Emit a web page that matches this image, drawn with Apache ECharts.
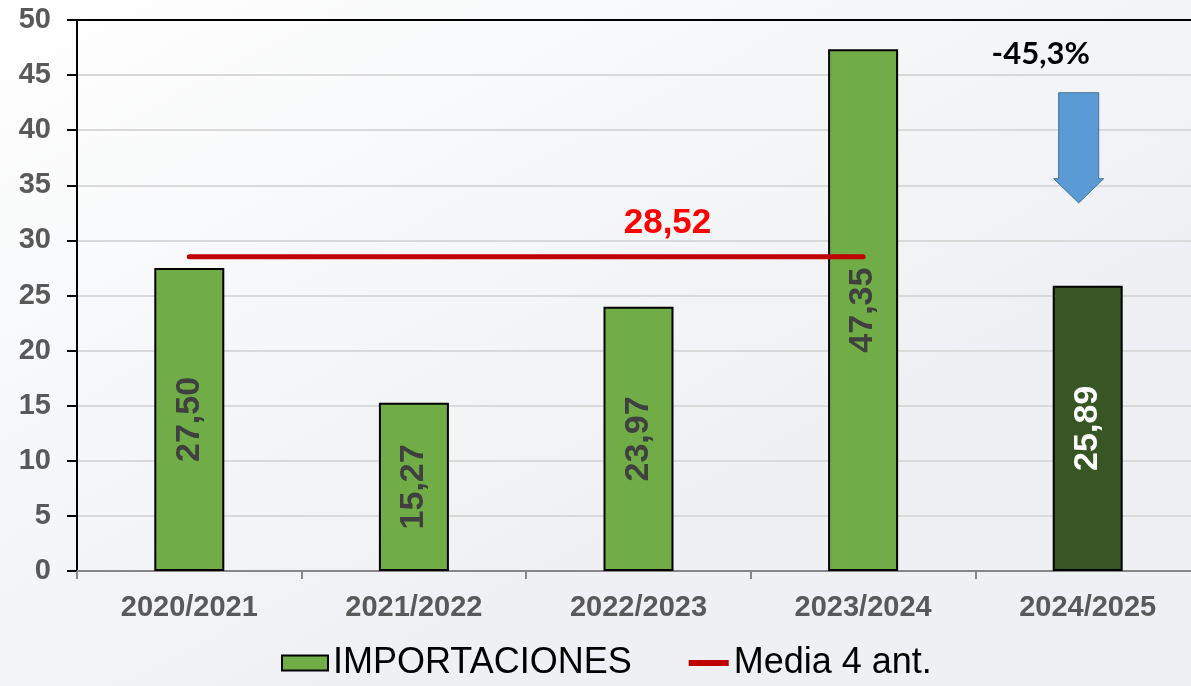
<!DOCTYPE html>
<html>
<head>
<meta charset="utf-8">
<script src="https://cdn.jsdelivr.net/npm/echarts@6/dist/echarts.min.js"></script>
<style>
html, body { margin: 0; padding: 0; overflow: hidden; }
#container { width: 1200px; height: 686px; }
</style>
</head>
<body>
<div id="container"></div>
<script>
var categories = ['2020/2021', '2021/2022', '2022/2023', '2023/2024', '2024/2025'];
var importaciones = [27.50, 15.27, 23.97, 47.35, 25.89];
var media = [28.52, 28.52, 28.52, 28.52, null];
var mediaLabelIndex = 2;
var variacion = '-45,3%';

var chart = echarts.init(document.getElementById('container'));

function fmt(v) {
    return v.toFixed(2).replace('.', ',');
}

var barData = importaciones.map(function (v, i) {
    var last = i === importaciones.length - 1;
    return {
        value: v,
        itemStyle: { color: last ? '#375623' : '#70ad47' },
        label: { color: last ? '#ffffff' : '#404040' }
    };
});

var splitColors = ['rgba(0,0,0,0)'];
for (var k = 1; k < 10; k++) splitColors.push('#d9d9d9');
splitColors.push('#000000');

// thin bar inside a 46x15 box, so the legend shows a plain red line
var lineIcon = 'path://M0,0 L0.01,0 M6,4.5 L46,4.5 L46,10.5 L6,10.5 Z M46,15 L45.99,15';

var option = {
    backgroundColor: {
        type: 'linear', x: 0, y: 0, x2: 0.3, y2: 1,
        colorStops: [{ offset: 0, color: '#ffffff' }, { offset: 1, color: '#eef0f3' }]
    },
    animation: false,
    grid: { left: 77, top: 20, right: 0, bottom: 115, containLabel: false },
    legend: {
        bottom: 0,
        left: 276,
        itemGap: 51,
        itemWidth: 46,
        itemHeight: 15,
        textStyle: { fontSize: 36, color: '#000000', fontFamily: 'Liberation Sans' },
        data: [
            { name: 'IMPORTACIONES', icon: 'rect', itemStyle: { color: '#70ad47', borderColor: '#000', borderWidth: 2 } },
            { name: 'Media 4 ant.', icon: lineIcon, itemStyle: { color: '#c00000', borderWidth: 0 } }
        ]
    },
    xAxis: {
        type: 'category',
        data: categories,
        axisLine: { lineStyle: { color: '#868686', width: 2 } },
        axisTick: { show: true, length: 8, lineStyle: { color: '#868686', width: 2 } },
        axisLabel: { margin: 22, fontSize: 29, fontWeight: 'bold', color: '#595959', fontFamily: 'Liberation Sans' }
    },
    yAxis: {
        type: 'value',
        min: 0, max: 50, interval: 5,
        axisLine: { show: true, lineStyle: { color: '#000', width: 2 } },
        axisTick: { show: true, length: 10, lineStyle: { color: '#000', width: 2 } },
        axisLabel: { margin: 26, fontSize: 29, fontWeight: 'bold', color: '#595959', fontFamily: 'Liberation Sans' },
        splitLine: { show: true, lineStyle: { color: splitColors, width: 2 } }
    },
    series: [{
        name: 'IMPORTACIONES',
        type: 'bar',
        barWidth: 70,
        data: barData,
        itemStyle: { borderColor: '#000', borderWidth: 2 },
        label: {
            show: true,
            position: 'inside',
            rotate: 90,
            fontSize: 34,
            fontWeight: 'bold',
            fontFamily: 'Liberation Sans',
            formatter: function (p) { return fmt(p.value); }
        },
        z: 2
    }, {
        name: 'Media 4 ant.',
        type: 'line',
        data: media,
        symbol: 'none',
        lineStyle: { color: '#c00000', width: 5, cap: 'round' },
        itemStyle: { color: '#c00000' },
        markPoint: {
            symbol: 'circle',
            symbolSize: 2,
            itemStyle: { color: 'rgba(0,0,0,0)' },
            label: {
                show: true,
                position: 'top',
                offset: [29, -10],
                color: '#ff0000',
                fontSize: 35,
                fontWeight: 'bold',
                fontFamily: 'Liberation Sans',
                formatter: function (p) { return fmt(p.value); }
            },
            data: [{ coord: [categories[mediaLabelIndex], media[mediaLabelIndex]], value: media[mediaLabelIndex] }]
        },
        z: 3
    }]
};
chart.setOption(option);

// arrow and percentage annotation over the last category
var lastCat = categories[categories.length - 1];
var pTop = chart.convertToPixel({ xAxisIndex: 0, yAxisIndex: 0 }, [lastCat, 43.4]);
var pHead = chart.convertToPixel({ xAxisIndex: 0, yAxisIndex: 0 }, [lastCat, 35.6]);
var pTip = chart.convertToPixel({ xAxisIndex: 0, yAxisIndex: 0 }, [lastCat, 33.4]);
var pText = chart.convertToPixel({ xAxisIndex: 0, yAxisIndex: 0 }, [lastCat, 46.9]);
var cx = pTop[0] - 9;

chart.setOption({
    graphic: [{
        type: 'polygon',
        shape: {
            points: [
                [cx - 20, pTop[1]], [cx + 20, pTop[1]], [cx + 20, pHead[1]], [cx + 25, pHead[1]],
                [cx, pTip[1]], [cx - 25, pHead[1]], [cx - 20, pHead[1]]
            ]
        },
        style: { fill: '#5b9bd5', stroke: '#41719c', lineWidth: 1 },
        z: 10
    }, {
        type: 'text',
        x: pText[0] - 47,
        y: pText[1],
        style: {
            text: variacion,
            fill: '#000',
            font: 'bold 31px Lato',
            align: 'center',
            verticalAlign: 'middle'
        },
        z: 10
    }]
});

window.addEventListener('resize', function () {
    chart.resize();
});
</script>
</body>
</html>
